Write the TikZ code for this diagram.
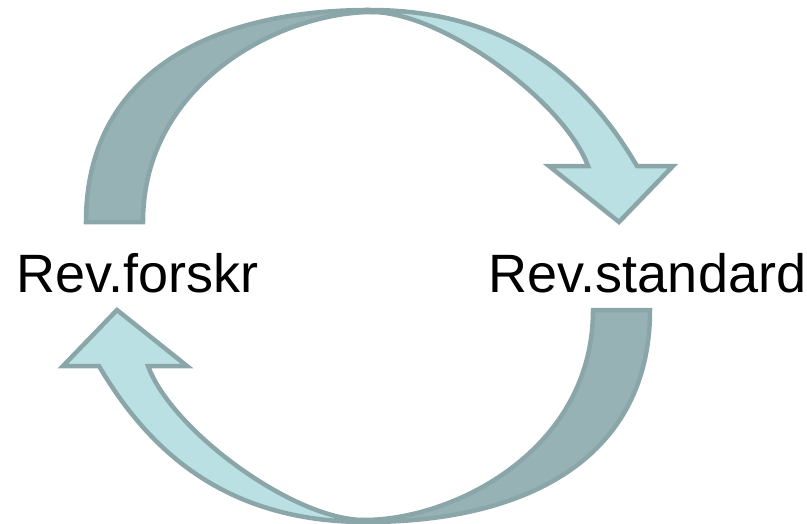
\documentclass[tikz,border=0pt]{standalone}
\usepackage{fontspec}
\setmainfont{Liberation Sans}
\definecolor{edgec}{HTML}{8AA6A8}
\definecolor{darkc}{HTML}{97B2B5}
\definecolor{lightc}{HTML}{BBE0E3}
\tikzset{
  backband/.style={fill=darkc, draw=edgec, line width=4.5pt, line join=miter},
  frontband/.style={fill=lightc, draw=edgec, line width=4.5pt, line join=miter},
  label/.style={anchor=base, inner sep=0pt, font=\fontsize{54}{60}\selectfont, text=black}
}
\begin{document}
\begin{tikzpicture}[x=1pt,y=-1pt]
\useasboundingbox (0,0) rectangle (807,523);
\newcommand{\curvedarrow}{%
  \draw[backband] (86,222) .. controls (86,77) and (205,10) .. (370,10)
    -- (372,12) .. controls (282,12) and (143,82) .. (143,222) -- cycle;
  \draw[frontband] (370,10) .. controls (510,10) and (587,81) .. (637,166)
    -- (673,166) -- (619,222) -- (549,166) -- (588,166)
    .. controls (564,101) and (442,12) .. (372,12) -- cycle;
}
\curvedarrow
\begin{scope}[rotate around={180:(368,266)}]
\curvedarrow
\end{scope}
\node[label] (forskr) at (137.5,292) {Rev.forskr};
\node[label] (standard) at (647.5,292) {Rev.standard};
\end{tikzpicture}
\end{document}
